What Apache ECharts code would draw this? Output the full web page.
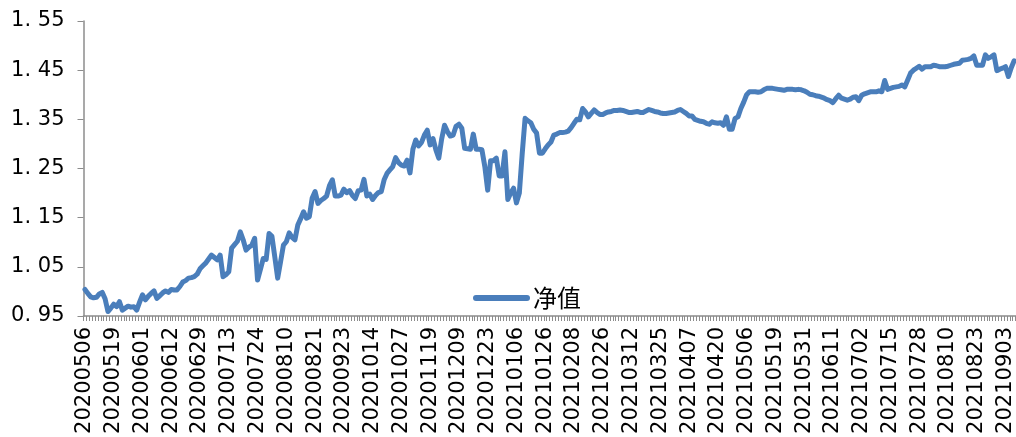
<!DOCTYPE html>
<html>
<head>
<meta charset="utf-8">
<script src="https://cdn.jsdelivr.net/npm/echarts@6/dist/echarts.min.js"></script>
<style>
html,body{margin:0;padding:0;background:#fff;}
#chart{width:1016px;height:437px;}
</style>
</head>
<body>
<div id="chart"></div>
<script>
// Tick labels shown on the x axis (every 10th category)
const tickLabels = [
  '20200506','20200519','20200601','20200612','20200629','20200713','20200724','20200810',
  '20200821','20200923','20201014','20201027','20201119','20201209','20201223','20210106',
  '20210126','20210208','20210226','20210312','20210325','20210407','20210420','20210506',
  '20210519','20210531','20210611','20210702','20210715','20210728','20210810','20210823',
  '20210903'
];
const seriesName = '净值';
// Net value series
const netValues = [
  1.004,0.996,0.989,0.987,0.988,0.995,0.998,0.985,0.959,0.966,
  0.974,0.969,0.979,0.962,0.966,0.970,0.968,0.969,0.962,0.978,
  0.993,0.983,0.990,0.996,1.001,0.986,0.991,0.997,1.001,0.998,
  1.004,1.003,1.003,1.010,1.019,1.022,1.027,1.028,1.030,1.035,
  1.046,1.052,1.058,1.066,1.074,1.069,1.064,1.074,1.030,1.034,
  1.040,1.088,1.095,1.102,1.121,1.105,1.084,1.090,1.094,1.108,
  1.023,1.045,1.067,1.065,1.118,1.112,1.070,1.027,1.060,1.094,
  1.101,1.119,1.110,1.105,1.135,1.148,1.162,1.149,1.152,1.190,
  1.203,1.179,1.185,1.189,1.194,1.215,1.227,1.194,1.194,1.196,
  1.208,1.201,1.205,1.195,1.189,1.205,1.206,1.228,1.194,1.198,
  1.187,1.195,1.201,1.203,1.227,1.240,1.247,1.254,1.272,1.262,
  1.257,1.255,1.267,1.241,1.289,1.308,1.296,1.303,1.318,1.328,
  1.298,1.311,1.288,1.271,1.310,1.338,1.325,1.316,1.318,1.336,
  1.340,1.332,1.291,1.290,1.289,1.320,1.289,1.289,1.288,1.254,
  1.206,1.266,1.266,1.271,1.235,1.235,1.284,1.187,1.200,1.210,
  1.180,1.200,1.280,1.352,1.347,1.343,1.330,1.322,1.281,1.281,
  1.290,1.298,1.304,1.318,1.320,1.323,1.323,1.324,1.326,1.333,
  1.342,1.350,1.349,1.372,1.365,1.355,1.362,1.369,1.364,1.360,
  1.360,1.363,1.365,1.366,1.368,1.368,1.369,1.368,1.366,1.364,
  1.364,1.365,1.366,1.364,1.364,1.367,1.370,1.368,1.366,1.365,
  1.363,1.362,1.362,1.363,1.364,1.365,1.368,1.370,1.366,1.362,
  1.357,1.357,1.350,1.348,1.346,1.345,1.342,1.340,1.345,1.343,
  1.342,1.343,1.338,1.355,1.330,1.330,1.352,1.355,1.372,1.385,
  1.400,1.406,1.406,1.406,1.405,1.406,1.410,1.413,1.413,1.413,
  1.412,1.411,1.410,1.409,1.411,1.411,1.411,1.410,1.411,1.410,
  1.408,1.405,1.401,1.400,1.398,1.397,1.395,1.393,1.390,1.388,
  1.384,1.392,1.399,1.393,1.391,1.389,1.391,1.395,1.396,1.388,
  1.399,1.402,1.404,1.406,1.406,1.406,1.408,1.406,1.429,1.411,
  1.413,1.415,1.416,1.417,1.420,1.416,1.430,1.444,1.450,1.454,
  1.458,1.452,1.457,1.457,1.457,1.460,1.459,1.457,1.457,1.457,
  1.458,1.460,1.462,1.463,1.464,1.470,1.471,1.472,1.474,1.479,
  1.460,1.460,1.460,1.481,1.474,1.477,1.481,1.449,1.452,1.454,
  1.457,1.437,1.455,1.469
];
const labelEvery = 10;

// Category list: labelled date every 10th point, unique placeholders in between (not displayed)
const categories = netValues.map((_, i) => {
  const k = Math.floor(i / labelEvery);
  return i % labelEvery === 0 && tickLabels[k] ? tickLabels[k] : 'p' + i;
});

const chart = echarts.init(document.getElementById('chart'), null, {renderer: 'canvas'});
chart.setOption({
  backgroundColor: '#ffffff',
  animation: false,
  grid: {left: 83.5, right: 0, top: 21, bottom: 121, containLabel: false},
  legend: {
    data: [seriesName],
    left: 468,
    top: 281,
    itemWidth: 57,
    itemHeight: 6,
    itemGap: 10,
    icon: 'path://M3,0 L54,0 A3,3 0 0 1 54,6 L3,6 A3,3 0 0 1 3,0 Z',
    textStyle: {fontSize: 24, fontFamily: 'Noto Sans CJK SC', color: '#000', padding: [0, 0, 0, -2]}
  },
  xAxis: {
    type: 'category',
    data: categories,
    boundaryGap: true,
    axisLine: {show: true, lineStyle: {color: '#8c8c8c', width: 1.5}},
    axisTick: {show: true, interval: 0, length: 5, lineStyle: {color: '#8c8c8c', width: 1}},
    axisLabel: {
      interval: labelEvery - 1,
      rotate: 90,
      margin: 11,
      fontSize: 21,
      fontFamily: 'DejaVu Sans',
      color: '#000'
    },
    splitLine: {show: false}
  },
  yAxis: {
    type: 'value',
    min: 0.95,
    max: 1.55,
    interval: 0.1,
    axisLine: {show: true, lineStyle: {color: '#8c8c8c', width: 1.5}},
    axisTick: {show: true, length: 6, lineStyle: {color: '#8c8c8c', width: 1}},
    axisLabel: {
      margin: 19,
      fontSize: 21,
      fontFamily: 'DejaVu Sans',
      color: '#000',
      formatter: v => v.toFixed(2).replace('.', '. ')
    },
    splitLine: {show: false}
  },
  series: [{
    name: seriesName,
    type: 'line',
    data: netValues,
    symbol: 'none',
    smooth: false,
    lineStyle: {color: '#4a7ebb', width: 5, join: 'round', cap: 'round'},
    itemStyle: {color: '#4a7ebb'}
  }]
});
</script>
</body>
</html>
